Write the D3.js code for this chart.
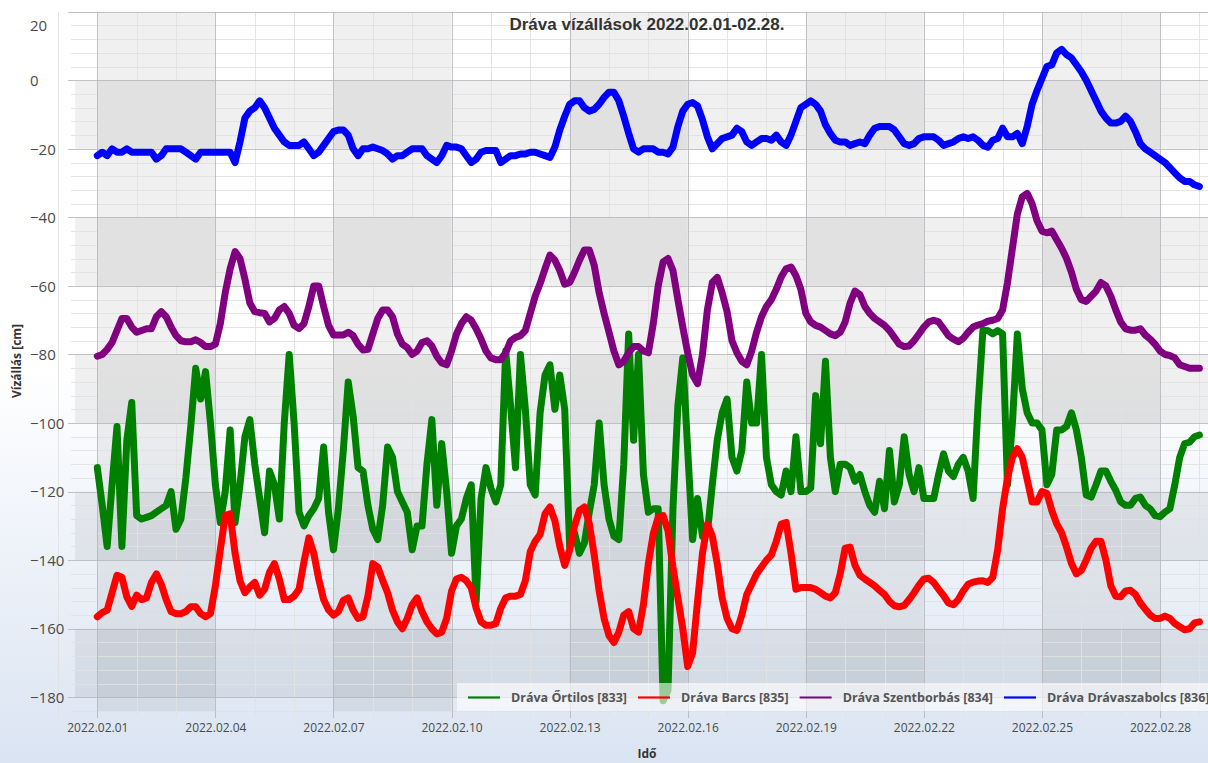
<!DOCTYPE html>
<html>
<head>
<meta charset="utf-8">
<script src="https://cdn.jsdelivr.net/npm/d3@7"></script>
<style>
  html, body { margin: 0; padding: 0; background: #ffffff; }
  svg { display: block; }
</style>
</head>
<body>
<svg id="chart" width="1208" height="763"></svg>
<script>
// ---------------- DATA (3-hourly readings, from 2022-02-01 00:00) ----------------
const title = "Dráva vízállások 2022.02.01-02.28.";
const seriesNames = ["Dráva Őrtilos [833]", "Dráva Barcs [835]", "Dráva Szentborbás [834]", "Dráva Drávaszabolcs [836]"];
const seriesColors = ["#008000", "#ff0000", "#800080", "#0000ff"];
const yTickValues = [20, 0, -20, -40, -60, -80, -100, -120, -140, -160, -180];
const xTickLabels = ["2022.02.01","2022.02.04","2022.02.07","2022.02.10","2022.02.13","2022.02.16","2022.02.19","2022.02.22","2022.02.25","2022.02.28"];

const ortilos = [
-113,-124,-136,-118,-101,-136,-105,-94,
-127,-128,-127.5,-127,-126,-125,-124,-120,
-131,-128,-116,-101,-84,-93,-85,-100,
-118,-129,-120,-102,-129,-118,-104,-99,
-112,-122,-132,-114,-118,-128,-100,-80,
-100,-126,-130,-127,-125,-122,-107,-126,
-137,-125,-108,-88,-98,-113,-114,-124,
-131,-134,-124,-107,-110,-120,-123,-126,
-137,-130,-130,-112,-99,-124,-106,-120,
-138,-130,-128,-122,-118,-152,-122,-113,
-119,-123,-118,-79,-95,-113,-80,-96,
-118,-121,-97,-86,-83,-96,-86,-96,
-136,-132,-138,-135,-126,-118,-100,-118,
-128,-133,-134,-112,-74,-105,-80,-115,
-126,-125,-125,-181,-178,-125,-95,-81,
-108,-134,-122,-133,-132,-118,-105,-97,
-93,-110,-114,-108,-88,-100,-100,-80,
-110,-118,-120,-121,-114,-120,-104,-120,
-120,-119,-92,-106,-82,-110,-120,-112,
-112,-113,-117,-115,-120,-124,-126,-117,
-125,-108,-123,-118,-104,-115,-120,-113,
-122,-122,-122,-115,-109,-114,-115.6,-112,
-110,-114,-122,-95,-73,-73,-74,-73,
-74,-118,-100,-74,-90,-97,-100,-100,
-102,-118,-115,-102,-102,-101,-97,-102,
-110,-121,-121.6,-118,-114,-114,-117,-119.6,
-123,-124,-124,-122,-121.6,-124,-125,-127,
-127.3,-126,-125,-118,-110,-106,-105.6,-104,
-103.5
];

const barcs = [
-156.5,-155.3,-154.6,-149.5,-144.4,-145,-150.7,-153.5,
-150.2,-151.5,-151,-146.5,-144,-147,-151.5,-155,
-155.6,-155.6,-155,-153.6,-153.6,-155.6,-156.5,-155.6,
-147.5,-137,-127,-126.5,-138,-146,-149.5,-147.8,
-146.5,-150.2,-148.5,-143.5,-141,-145.5,-151.5,-151.5,
-150.5,-148.5,-140.5,-133.5,-138,-145.5,-151.5,-154.5,
-156,-155,-151.7,-151,-154.6,-157,-156.5,-150.5,
-141,-142,-145.9,-149.5,-154.6,-158,-160,-157,
-153,-151,-155,-158,-160,-161.5,-161,-157,
-149,-145.5,-145,-146,-148,-154,-158,-159,
-159,-158.5,-154,-151,-150.5,-150.5,-150,-146,
-137.5,-134.5,-132.5,-126.5,-124.5,-128.5,-136,-141.5,
-137,-130,-125.5,-124.5,-129.4,-138.5,-149,-157,
-162,-164,-161,-156,-155,-160,-161,-153,
-141,-132.3,-127.5,-127,-131.5,-142,-151,-160,
-171,-167,-152,-138,-129.5,-133,-141,-151,
-157,-160,-160.5,-156,-150,-147,-144,-142,
-140,-138.5,-134.5,-129.5,-129,-138,-148.5,-148,
-148,-148,-148.5,-149.5,-150.5,-151,-149.5,-144,
-136.5,-136.2,-141.5,-144.4,-145.5,-146.5,-147.5,-148.8,
-150,-152,-153.3,-153.6,-153.2,-151.5,-149.5,-147.3,
-145.5,-145.3,-146.5,-148.5,-150.3,-152.5,-153,-151.5,
-149,-147,-146.4,-146.1,-146,-146.5,-145,-137,
-125,-116,-110,-107.5,-110,-116.5,-123,-123,
-120,-120.5,-125.5,-129.4,-132,-136.2,-141,-144,
-143,-140,-136.5,-134.5,-134.5,-140,-147.5,-150.5,
-150.7,-149,-148.8,-150,-152.5,-154.3,-156,-157,
-157,-156.3,-157,-158.5,-159.4,-160.3,-160,-158.3,
-158
];

const szentborbas = [
-80.5,-80,-78.5,-76.5,-73,-69.5,-69.5,-72,
-73.5,-73,-72.5,-72.5,-69,-67.5,-69,-72,
-74.5,-76,-76.3,-76.3,-75.7,-76.5,-77.7,-77.7,
-77,-71,-62,-55,-50,-52,-58,-65,
-67.5,-67.8,-68,-70.5,-69.5,-67,-66,-68,
-71.5,-72.4,-71,-66,-60,-60,-66,-71.5,
-74.3,-74.3,-74.3,-73.5,-74.5,-77,-78.7,-78.5,
-74,-69.5,-67,-67,-69,-74,-77,-78,
-80,-79,-76.5,-76,-77.5,-80.5,-82.5,-83,
-79,-74,-71,-69,-70,-72.5,-75.5,-79,
-81,-81.5,-81.5,-79.5,-76,-75,-74.5,-73,
-68,-63,-59.3,-55,-51,-52.5,-55.5,-59.5,
-59,-56,-52.5,-49.5,-49.5,-54,-62,-68,
-73.5,-79,-83,-82,-79.5,-77.7,-77.7,-79,
-79.5,-71,-60,-53,-52,-55.5,-64,-72,
-79.5,-86,-88.5,-80,-67,-59,-57.5,-62,
-67.5,-76,-79.5,-82,-83,-79,-73.5,-69,
-66,-64,-61,-57.4,-55,-54.5,-57,-61,
-68,-70.5,-71.5,-72,-73,-74,-74.5,-73.5,
-70.5,-65,-61.5,-62.5,-66,-68,-69.5,-70.5,
-71.5,-73,-75,-77,-77.7,-77.5,-76,-74,
-72,-70.5,-70,-70.5,-72.5,-74.5,-75.5,-76.3,
-75.3,-73.5,-72,-71.4,-71,-70.3,-70,-69.5,
-67,-59,-49,-39,-34,-33,-36,-41,
-44,-44.5,-44,-46.5,-49,-52,-56,-61,
-64,-64.5,-63,-61.5,-59,-60,-63,-67,
-70.5,-72.5,-72.9,-72.9,-72.5,-74.3,-75.5,-77,
-79,-80,-80.3,-81,-83,-83.5,-84,-84,
-84
];

const dravaszabolcs = [
-22,-21,-22,-20,-21,-21,-20,-21,
-21,-21,-21,-21,-23,-22,-20,-20,
-20,-20,-21,-22,-23,-21,-21,-21,
-21,-21,-21,-21,-24,-18,-11,-9,
-8,-6,-8,-11,-14,-16,-18,-19,
-19,-19,-18,-20,-22,-21,-19,-17,
-15,-14.5,-14.5,-16,-20,-22,-20,-20,
-19.5,-20,-20.5,-21.5,-23,-22,-22,-21,
-20,-20,-20,-22,-23,-24,-22,-19,
-19.5,-19.5,-20,-22,-24,-23,-21,-20.5,
-20.5,-20.5,-24,-23,-22,-22,-21.5,-21.5,
-21,-21,-21.5,-22,-22.5,-19.5,-14.5,-10.5,
-7,-6,-6,-8,-9,-8.5,-7,-5,
-3.5,-3.5,-6,-10.5,-15.5,-20,-21,-20,
-20,-20,-21,-21,-21.5,-19.5,-13.5,-9,
-7,-6.5,-7.5,-11.5,-16.5,-20,-18.5,-17,
-16.5,-16,-14,-15,-18,-19,-18,-17,
-17,-17.5,-16,-18,-19,-16,-12,-8,
-7,-6,-7,-9,-13,-15.5,-17.5,-18,
-18,-19,-18.5,-18,-18.5,-16,-14,-13.5,
-13.5,-13.5,-14.5,-16.5,-18.5,-19,-18.5,-17,
-16.5,-16.5,-16.5,-17.5,-19,-18.5,-18,-17,
-16.5,-17,-16.5,-17.5,-19,-19.5,-17.5,-17,
-14,-16.5,-16.5,-15.5,-18.5,-13.5,-7,-3,
0.5,4,4.5,8,9,7.5,6.5,4.5,
2.5,0,-3,-6,-9,-11,-12.5,-12.5,
-12,-10.5,-12,-15,-18.5,-20,-21,-22,
-23,-24,-25.5,-27,-28.5,-29.5,-29.5,-30.5,
-31
];

const seriesValues = [ortilos, barcs, szentborbas, dravaszabolcs];
const times = ortilos.map((_, i) => new Date(2022, 1, 1, 3 * i));

// ---------------- LAYOUT ----------------
const W = 1208, H = 763;
const plotL = 75, plotR = 1208, plotT = 12, plotB = 711;

const svg = d3.select("#chart");
const defs = svg.append("defs");

const bg = defs.append("linearGradient").attr("id", "bgGrad").attr("x1", 0).attr("y1", 0).attr("x2", 0).attr("y2", 1);
bg.append("stop").attr("offset", "0%").attr("stop-color", "#ffffff");
bg.append("stop").attr("offset", "48%").attr("stop-color", "#ffffff");
bg.append("stop").attr("offset", "100%").attr("stop-color", "#dae4f2");

defs.append("clipPath").attr("id", "plotClip")
  .append("rect").attr("x", plotL).attr("y", plotT).attr("width", plotR - plotL).attr("height", plotB - plotT);

svg.append("rect").attr("x", 0).attr("y", 0).attr("width", W).attr("height", H).attr("fill", "url(#bgGrad)");

// scales
const x = d3.scaleTime()
  .domain([new Date(2022, 0, 31, 10, 24), new Date(2022, 2, 1, 5, 15)])
  .range([plotL, plotR]);
const y = d3.scaleLinear().domain([-184, 20]).range([plotB, 11.7]);

// ---------------- BACKGROUND CHECKERBOARD ----------------
const shade = svg.append("g").attr("clip-path", "url(#plotClip)");
const colStarts = d3.range(-3, 33, 3).map(d => new Date(2022, 1, 1 + d));
colStarts.forEach((d) => {
  const next = new Date(d.getFullYear(), d.getMonth(), d.getDate() + 3);
  const idx = Math.round((d - new Date(2022, 1, 1)) / 864e5 / 3);
  if (((idx % 2) + 2) % 2 === 0) {
    shade.append("rect")
      .attr("x", x(d)).attr("y", plotT)
      .attr("width", x(next) - x(d)).attr("height", plotB - plotT)
      .attr("fill", "rgba(0,0,0,0.058)");
  }
});
d3.range(20, -200, -20).forEach(v => {
  if (v <= 0 && (Math.abs(v) / 20) % 2 === 0) {
    shade.append("rect")
      .attr("x", plotL).attr("y", y(v))
      .attr("width", plotR - plotL).attr("height", y(v - 20) - y(v))
      .attr("fill", "rgba(0,0,0,0.058)");
  }
});

// ---------------- GRIDLINES (via axes) ----------------
const minorY = d3.range(20, -185, -4).filter(v => v % 20 !== 0);
const majorY = yTickValues;
const minorX = d3.range(-1, 29).map(d => new Date(2022, 1, 1 + d)).filter((d, i) => ((i - 1) % 3 + 3) % 3 !== 0);
const majorX = d3.range(0, 30, 3).map(d => new Date(2022, 1, 1 + d));

function styleGrid(g, color) {
  g.select(".domain").remove();
  g.selectAll("text").remove();
  g.selectAll("line").attr("stroke", color).attr("stroke-width", 1).attr("shape-rendering", "crispEdges");
}
svg.append("g").attr("transform", `translate(71,0)`)
  .call(d3.axisLeft(y).tickValues(minorY).tickSize(-(W - 71)).tickSizeOuter(0))
  .call(g => styleGrid(g, "rgba(225,225,225,0.9)"));
svg.append("g").attr("transform", `translate(0,717)`)
  .call(d3.axisBottom(x).tickValues(minorX).tickSize(-(717 - plotT)).tickSizeOuter(0))
  .call(g => styleGrid(g, "rgba(225,225,225,0.9)"));
svg.append("g").attr("transform", `translate(68,0)`)
  .call(d3.axisLeft(y).tickValues(majorY).tickSize(-(W - 68)).tickSizeOuter(0))
  .call(g => styleGrid(g, "rgba(180,180,185,0.8)"));
svg.append("g").attr("transform", `translate(0,718)`)
  .call(d3.axisBottom(x).tickValues(majorX).tickSize(-(718 - plotT)).tickSizeOuter(0))
  .call(g => styleGrid(g, "rgba(180,180,185,0.8)"));

// ---------------- AXIS LABELS ----------------
const yLab = svg.append("g").attr("transform", "translate(30,0)")
  .call(d3.axisLeft(y).tickValues(yTickValues).tickSize(0).tickFormat(d3.format("d")));
yLab.select(".domain").remove();
yLab.selectAll("text")
  .attr("x", 0).attr("text-anchor", "start")
  .attr("y", d => Math.max(y(d), 25) - y(d))
  .attr("dy", "0.35em")
  .attr("fill", "#4a4a4a")
  .style("font-family", "'Open Sans', sans-serif").style("font-size", "15px");

const xLab = svg.append("g").attr("transform", "translate(0,723)")
  .call(d3.axisBottom(x).tickValues(majorX).tickSize(0).tickFormat((d, i) => xTickLabels[i]));
xLab.select(".domain").remove();
xLab.selectAll("text")
  .attr("y", 0).attr("dy", "0.71em")
  .attr("fill", "#4a4a4a")
  .style("font-family", "'Open Sans', sans-serif").style("font-size", "12px");

// ---------------- LINES ----------------
const lines = svg.append("g").attr("clip-path", "url(#plotClip)");
const lineGen = d3.line().x((d, i) => x(times[i])).y(d => y(d)).curve(d3.curveLinear);
seriesValues.forEach((vals, k) => {
  lines.append("path")
    .datum(vals)
    .attr("d", lineGen)
    .attr("fill", "none")
    .attr("stroke", seriesColors[k])
    .attr("stroke-width", 7)
    .attr("stroke-linejoin", "round")
    .attr("stroke-linecap", "round");
});

// ---------------- TITLES ----------------
svg.append("text").attr("x", 647).attr("y", 30).attr("text-anchor", "middle")
  .attr("fill", "#333").style("font-family", "'Liberation Sans', Arial, sans-serif")
  .style("font-weight", "bold").style("font-size", "17px").text(title);

svg.append("text").attr("transform", "translate(21,361) rotate(-90)").attr("text-anchor", "middle")
  .attr("fill", "#333").style("font-family", "'Open Sans', sans-serif")
  .style("font-weight", "bold").style("font-size", "12px").text("Vízállás [cm]");

svg.append("text").attr("x", 647).attr("y", 758).attr("text-anchor", "middle")
  .attr("fill", "#333").style("font-family", "'Open Sans', sans-serif")
  .style("font-weight", "bold").style("font-size", "12px").text("Idő");

// ---------------- LEGEND ----------------
const legend = svg.append("g");
legend.append("rect").attr("x", 457).attr("y", 683).attr("width", 760).attr("height", 28)
  .attr("fill", "rgba(255,255,255,0.6)");
let lx = 468;
seriesNames.forEach((name, k) => {
  legend.append("line").attr("x1", lx).attr("x2", lx + 32).attr("y1", 697.5).attr("y2", 697.5)
    .attr("stroke", seriesColors[k]).attr("stroke-width", 2.2);
  const t = legend.append("text").attr("x", lx + 43).attr("y", 702)
    .attr("fill", "#555").style("font-family", "'Open Sans', sans-serif")
    .style("font-weight", "bold").style("font-size", "12.5px").text(name);
  lx = lx + 43 + t.node().getComputedTextLength() + 11;
});
</script>
</body>
</html>
